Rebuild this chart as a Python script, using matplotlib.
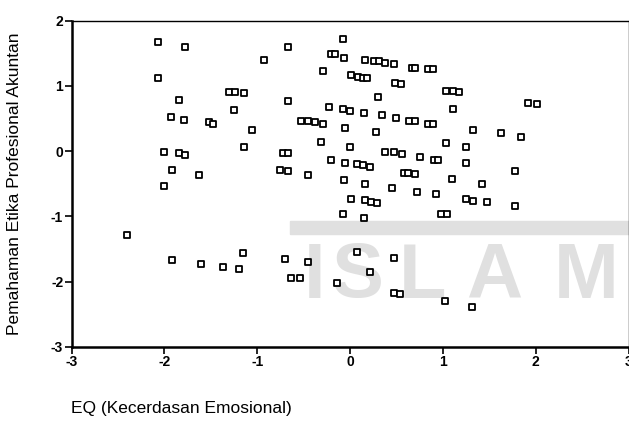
import matplotlib
matplotlib.use("Agg")
import matplotlib.pyplot as plt
from matplotlib.patches import Rectangle

plt.rcParams['font.family'] = ['Liberation Sans', 'DejaVu Sans']
plt.rcParams['axes.unicode_minus'] = False

# EQ (x) vs Pemahaman Etika Profesional Akuntan (y), standardised scores
eq = [-2.07, -1.78, -0.67, -0.93, -2.07, -1.30, -1.24, -1.14, -0.67, -1.84,
      -1.25, -1.93, -1.79, -1.52, -1.48, -1.06, -1.14, -2.00, -1.84, -1.78,
      -0.72, -0.67, -1.92, -1.63, -0.75, -0.67, -2.00, -0.45, -0.53, -0.45,
      -0.38, -0.29, -0.31, -0.08, -0.21, -0.16, -0.06, 0.16, 0.26, 0.31,
      0.38, 0.47, 0.67, 0.70, 0.835, 0.89, -0.29, 0.01, 0.09, 0.14,
      0.18, 0.48, 0.55, 1.03, 1.11, 1.17, 0.30, 1.92, 2.01, -0.23,
      -0.08, 0.00, 0.15, 0.34, 0.50, 0.64, 0.70, 0.84, 0.89, 1.11,
      -0.05, 0.28, 1.33, 1.63, 1.84, 0.00, 1.03, 1.25, 0.38, 0.47,
      0.56, 0.75, 0.90, 0.95, -0.21, -0.05, 0.08, 0.14, 0.22, 1.25,
      0.58, 0.63, 0.70, 1.78, -0.07, 0.16, 0.45, 1.10, 1.42, 0.72,
      0.93, 0.01, 0.16, 0.23, 0.29, 1.25, 1.33, 1.48, 1.78, -0.08,
      0.15, 0.98, 1.04, -2.40, -1.92, -1.61, -1.37, -1.20, -1.15, -0.70,
      -0.64, -0.54, -0.45, -0.14, 0.08, 0.22, 0.47, 0.47, 0.54, 1.02,
      1.31]
etika = [1.67, 1.59, 1.59, 1.39, 1.12, 0.91, 0.91, 0.89, 0.76, 0.79,
         0.63, 0.52, 0.48, 0.44, 0.42, 0.33, 0.07, -0.01, -0.03, -0.06,
         -0.03, -0.03, -0.29, -0.36, -0.29, -0.31, -0.54, -0.36, 0.46, 0.46,
         0.44, 0.42, 0.14, 1.72, 1.48, 1.48, 1.43, 1.39, 1.38, 1.38,
         1.35, 1.33, 1.28, 1.28, 1.25, 1.25, 1.22, 1.16, 1.13, 1.12,
         1.12, 1.05, 1.02, 0.92, 0.92, 0.90, 0.83, 0.74, 0.72, 0.68,
         0.64, 0.61, 0.59, 0.55, 0.51, 0.46, 0.46, 0.42, 0.42, 0.64,
         0.36, 0.30, 0.33, 0.27, 0.21, 0.07, 0.13, 0.07, -0.01, -0.02,
         -0.05, -0.09, -0.13, -0.13, -0.14, -0.18, -0.20, -0.22, -0.25, -0.18,
         -0.33, -0.33, -0.35, -0.31, -0.44, -0.50, -0.56, -0.43, -0.50, -0.62,
         -0.66, -0.73, -0.75, -0.78, -0.80, -0.73, -0.76, -0.78, -0.84, -0.97,
         -1.03, -0.96, -0.96, -1.28, -1.67, -1.73, -1.77, -1.81, -1.56, -1.66,
         -1.94, -1.94, -1.70, -2.02, -1.55, -1.85, -1.63, -2.17, -2.19, -2.29,
         -2.38]

xticks = [-3, -2, -1, 0, 1, 2, 3]
yticks = [-3, -2, -1, 0, 1, 2]

fig = plt.figure(figsize=(6.29, 4.25), dpi=100)

# faint scan watermark behind the chart
wm = '#e0e0e0'
fig.patches.append(Rectangle((290 / 629, 1 - 234 / 425), 339 / 629, 13 / 425,
                             transform=fig.transFigure, color=wm, zorder=-2))
for ch, px in zip('ISLAM', [315, 358, 422, 494, 586]):
    fig.text(px / 629, 1 - 277 / 425, ch, color=wm, fontsize=56,
             fontweight='bold', ha='center', va='center', zorder=-2)

ax = fig.add_axes([71.5 / 629, 1 - 347 / 425, 557 / 629, 326.5 / 425])
ax.set_zorder(1)
ax.patch.set_alpha(0)
ax.scatter(eq, etika, marker='s', s=20, facecolors='white',
           edgecolors='black', linewidths=1.3, zorder=3)

ax.set_xlim(-3, 3)
ax.set_ylim(-3, 2)
ax.set_xticks(xticks)
ax.set_yticks(yticks)
ax.tick_params(direction='out', length=5, width=1.2, pad=1, labelsize=10)
for lab in ax.get_xticklabels() + ax.get_yticklabels():
    lab.set_fontweight('bold')

for side in ['left', 'bottom']:
    ax.spines[side].set_linewidth(1.8)
for side in ['top', 'right']:
    ax.spines[side].set_linewidth(1.0)

fig.text(15 / 629, 1 - 184 / 425, 'Pemahaman Etika Profesional Akuntan',
         rotation=90, ha='center', va='center', fontsize=12.5)
fig.text(71 / 629, 1 - 408 / 425, 'EQ (Kecerdasan Emosional)',
         ha='left', va='center', fontsize=12.5)

fig.savefig('out.png', dpi=100)
